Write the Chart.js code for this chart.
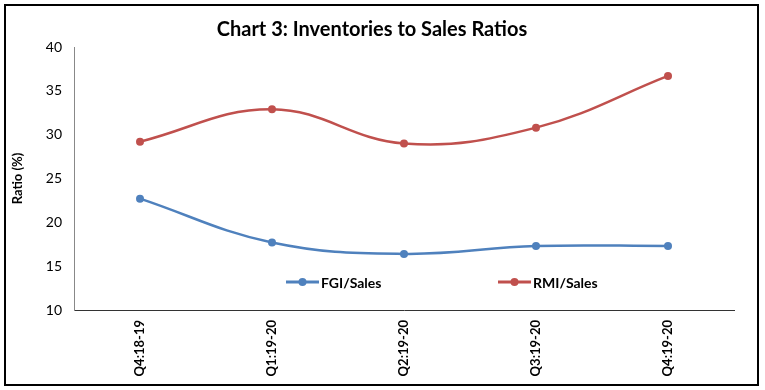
<!DOCTYPE html>
<html>
<head>
<meta charset="utf-8">
<script src="https://cdn.jsdelivr.net/npm/chart.js@4/dist/chart.umd.min.js"></script>
<style>
html,body{margin:0;padding:0;background:#fff;}
#wrap{position:absolute;left:0;top:0;width:765px;height:390px;}
</style>
</head>
<body>
<div id="wrap"><canvas id="c" width="765" height="390"></canvas></div>
<script>
const categories = ['Q4:18-19','Q1:19-20','Q2:19-20','Q3:19-20','Q4:19-20'];
const fgiSales = [22.7, 17.7, 16.4, 17.3, 17.3];
const rmiSales = [29.2, 32.9, 29.0, 30.8, 36.7];
const seriesNames = ['FGI/Sales','RMI/Sales'];
const titleText = 'Chart 3: Inventories to Sales Ratios';
const yTitle = 'Ratio (%)';

const FONT = 'Lato, "Open Sans", "DejaVu Sans", sans-serif';

const borderPlugin = {
  id: 'outerBorder',
  beforeDraw(chart) {
    const ctx = chart.ctx;
    ctx.save();
    ctx.fillStyle = '#fff';
    ctx.fillRect(0,0,chart.width,chart.height);
    ctx.strokeStyle = '#000';
    ctx.lineWidth = 2;
    ctx.strokeRect(5, 5, 753, 380);
    ctx.restore();
  }
};

const legendPlugin = {
  id: 'innerLegend',
  afterDatasetsDraw(chart) {
    const ctx = chart.ctx;
    const area = chart.chartArea;
    const y = area.bottom - 28;
    const starts = [area.left + 212, area.left + 424];
    ctx.save();
    chart.data.datasets.forEach((ds, i) => {
      const x0 = starts[i];
      ctx.strokeStyle = ds.borderColor;
      ctx.lineWidth = 3;
      ctx.beginPath();
      ctx.moveTo(x0, y);
      ctx.lineTo(x0 + 33, y);
      ctx.stroke();
      ctx.fillStyle = ds.borderColor;
      ctx.beginPath();
      ctx.arc(x0 + 16.5, y, 4, 0, Math.PI * 2);
      ctx.fill();
      ctx.fillStyle = '#000';
      ctx.font = 'bold 14px ' + FONT;
      ctx.textBaseline = 'middle';
      ctx.textAlign = 'left';
      ctx.fillText(ds.label, x0 + 35, y + 1);
    });
    ctx.restore();
  }
};

new Chart(document.getElementById('c'), {
  type: 'line',
  data: {
    labels: categories,
    datasets: [
      {
        label: seriesNames[0],
        data: fgiSales,
        borderColor: '#4F81BD',
        backgroundColor: '#4F81BD',
        borderWidth: 2.5,
        pointRadius: 4,
        pointBackgroundColor: '#4F81BD',
        pointBorderWidth: 0,
        tension: 0.4,
        fill: false
      },
      {
        label: seriesNames[1],
        data: rmiSales,
        borderColor: '#C0504D',
        backgroundColor: '#C0504D',
        borderWidth: 2.5,
        pointRadius: 4,
        pointBackgroundColor: '#C0504D',
        pointBorderWidth: 0,
        tension: 0.4,
        fill: false
      }
    ]
  },
  options: {
    responsive: false,
    animation: false,
    events: [],
    layout: { padding: { left: 10, right: 31, top: 0, bottom: 0 } },
    plugins: {
      legend: { display: false },
      tooltip: { enabled: false },
      title: {
        display: true,
        text: titleText,
        color: '#000',
        font: { family: FONT, size: 20, weight: 'bold' },
        padding: { top: 18, bottom: 5 }
      }
    },
    scales: {
      x: {
        offset: true,
        grid: { display: false, drawTicks: false },
        border: { display: true, color: '#333', width: 1 },
        ticks: {
          color: '#000',
          font: { family: FONT, size: 13, weight: 'bold' },
          maxRotation: 90,
          minRotation: 90,
          padding: 10
        },
        afterFit(scale) { scale.height = 80; }
      },
      y: {
        min: 10,
        max: 40,
        grid: { display: false, drawTicks: false },
        border: { display: true, color: '#888', width: 1 },
        ticks: {
          stepSize: 5,
          color: '#000',
          font: { family: FONT, size: 14 },
          padding: 12
        },
        title: {
          display: true,
          text: yTitle,
          color: '#000',
          font: { family: FONT, size: 13, weight: 'bold' },
          padding: { top: 0, bottom: 2 }
        },
        afterFit(scale) { scale.width = 64; }
      }
    }
  },
  plugins: [borderPlugin, legendPlugin]
});
</script>
</body>
</html>
